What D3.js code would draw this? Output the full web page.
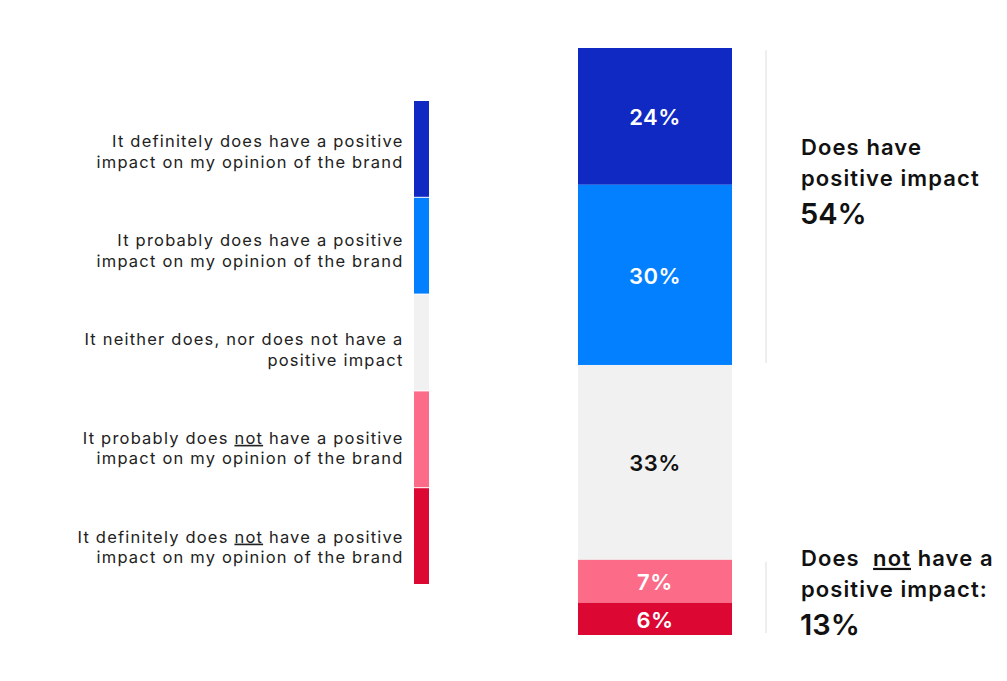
<!DOCTYPE html>
<html lang="en">
<head>
    <meta charset="UTF-8">
    <script src="https://cdn.jsdelivr.net/npm/d3@7"></script>
    <title>Positive impact on brand opinion</title>
    <style>
        body { margin: 0; background: #fff; }
        text { font-family: Inter, Lato, sans-serif; }
        .cat { font-size: 16.5px; fill: #222; letter-spacing: 1.2px; }
        .val { font-size: 22px; font-weight: 600; letter-spacing: 0.5px; }
        .grp { font-size: 22px; font-weight: 600; fill: #111; letter-spacing: 1.1px; }
        .tot { font-size: 29px; font-weight: 600; fill: #111; }
    </style>
</head>
<body>
<div id="chart"></div>
<script>
    // answer categories, top to bottom (_word_ = underlined)
    const categories = [
        ["It definitely does have a positive", "impact on my opinion of the brand"],
        ["It probably does have a positive", "impact on my opinion of the brand"],
        ["It neither does, nor does not have a", "positive impact"],
        ["It probably does _not_ have a positive", "impact on my opinion of the brand"],
        ["It definitely does _not_ have a positive", "impact on my opinion of the brand"]
    ];
    // share of respondents (segment sizes as drawn) and printed labels
    const shares = [23.3, 30.7, 33.2, 7.3, 5.5];
    const shareLabels = ["24%", "30%", "33%", "7%", "6%"];
    const colors = ["#1029c3", "#0380ff", "#f1f1f1", "#fc6b87", "#dc0733"];
    const labelColors = ["#fff", "#fff", "#111", "#fff", "#fff"];

    // summary groups on the right
    const groupTitles = [["Does have", "positive impact"], ["Does _not_ have a", "positive impact:"]];
    const groupTotals = ["54%", "13%"];
    const groupRanges = [[0, 2], [3, 5]];

    const width = 1007, height = 681;
    const svg = d3.select("#chart").append("svg")
        .attr("width", width)
        .attr("height", height);

    // split "_x_" markup into tspans with underline
    const addLine = (textSel, line, x, dy) => {
        const parts = line.split(/(_[^_]+_)/).filter(p => p.length);
        parts.forEach((p, i) => {
            const ts = textSel.append("tspan");
            if (i === 0) ts.attr("x", x).attr("dy", dy);
            if (p.startsWith("_")) {
                ts.text(p.slice(1, -1)).style("text-decoration", "underline");
            } else {
                ts.text(p);
            }
        });
    };

    // legend strip + labels
    const idx = d3.range(categories.length);
    const band = d3.scaleBand().domain(idx).range([101, 585]);
    svg.selectAll("rect.leg")
        .data(categories)
        .enter()
        .append("rect")
        .attr("class", "leg")
        .attr("x", 414)
        .attr("width", 15)
        .attr("y", (d, i) => band(i))
        .attr("height", band.bandwidth() - 1)
        .attr("fill", (d, i) => colors[i]);

    // labels are spread evenly, a bit higher at the top than the strip
    const mid = i => band(i) + band.bandwidth() / 2;
    const labelY = d3.scalePoint().domain(idx).range([mid(0) - 2, mid(idx.length - 1) + 6]);
    categories.forEach((lines, i) => {
        const t = svg.append("text")
            .attr("class", "cat")
            .attr("text-anchor", "end")
            .attr("y", labelY(i));
        lines.forEach((line, j) => addLine(t, line, 403.5, j === 0 ? 0 : 20.5));
    });

    // stacked bar
    const y = d3.scaleLinear().domain([0, d3.sum(shares)]).range([48, 635]);
    const starts = d3.cumsum([0].concat(shares)).slice(0, shares.length);

    svg.selectAll("rect.seg")
        .data(shares)
        .enter()
        .append("rect")
        .attr("class", "seg")
        .attr("x", 578)
        .attr("width", 154)
        .attr("y", (d, i) => y(starts[i]))
        .attr("height", (d, i) => y(starts[i] + d) - y(starts[i]))
        .attr("fill", (d, i) => colors[i]);

    svg.selectAll("text.val")
        .data(shares)
        .enter()
        .append("text")
        .attr("class", "val")
        .attr("text-anchor", "middle")
        .attr("dominant-baseline", "central")
        .attr("x", 655)
        .attr("y", (d, i) => (y(starts[i]) + y(starts[i] + d)) / 2 + 1)
        .attr("fill", (d, i) => labelColors[i])
        .text((d, i) => shareLabels[i]);

    // group separators and summary text
    groupRanges.forEach((r, g) => {
        const y0 = y(starts[r[0]]);
        const y1 = y(starts[r[1] - 1] + shares[r[1] - 1]);
        svg.append("line")
            .attr("x1", 766).attr("x2", 766)
            .attr("y1", y0 + 2).attr("y2", y1 - 2)
            .attr("stroke", "#eeeeee")
            .attr("stroke-width", 2);

        const base = Math.max((y0 + y1) / 2 - 51, y0 + 6);
        const t = svg.append("text").attr("class", "grp").attr("y", base);
        groupTitles[g].forEach((line, j) => addLine(t, line.replace("_not_", "\u00a0_not_"), 801, j === 0 ? 0 : 31));
        svg.append("text")
            .attr("class", "tot")
            .attr("x", 800)
            .attr("y", base + 69)
            .text(groupTotals[g]);
    });
</script>
</body>
</html>
